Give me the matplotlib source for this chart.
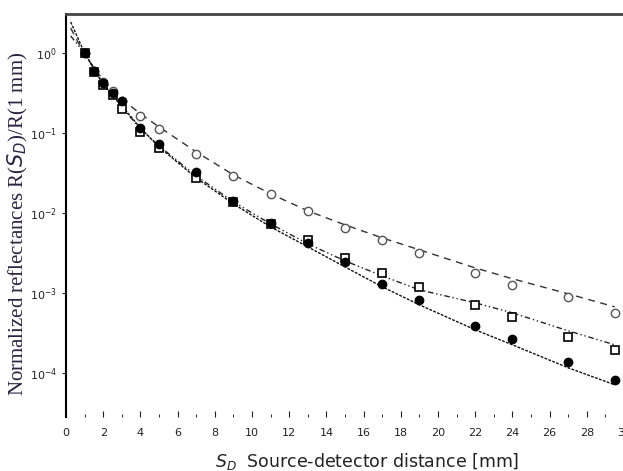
import numpy as np
import matplotlib.pyplot as plt
from matplotlib.ticker import MultipleLocator, LogLocator, NullLocator

# measured points
x_pts = [1, 1.5, 2, 2.5, 3, 4, 5, 7, 9, 11, 13, 15, 17, 19, 22, 24, 27, 29.5]
r_filled = [1.0, 0.596, 0.42, 0.316, 0.25, 0.1155, 0.0729, 0.0326, 0.0141, 0.0075,
            0.00422, 0.00244, 0.0013, 0.000818, 0.000387, 0.000266, 0.000137, 8.2e-5]
r_square = [1.0, 0.58, 0.40, 0.30, 0.2, 0.103, 0.065, 0.0274, 0.0137, 0.0073,
            0.0046, 0.00274, 0.00178, 0.00119, 0.000708, 0.0005, 0.000282, 0.000194]
r_circle = [1.0, 0.6, 0.43, 0.33, 0.25, 0.163, 0.112, 0.0546, 0.029, 0.0173,
            0.0106, 0.0065, 0.0046, 0.00316, 0.00178, 0.00126, 0.00089, 0.000562]

# fitted curves
x_fit = [0.25, 1, 2, 3, 4, 5, 7, 9, 11, 13, 15, 17, 19, 22, 24, 27, 29.5]
fit_filled = [2.44, 1.0, 0.41, 0.2175, 0.1155, 0.0668, 0.0274, 0.01296, 0.00668, 0.00376,
              0.00211, 0.00119, 0.000708, 0.000345, 0.000224, 0.0001155, 7.08e-5]
fit_square = [1.63, 1.0, 0.398, 0.211, 0.112, 0.0688, 0.029, 0.01373, 0.00729, 0.0041,
              0.00251, 0.00163, 0.00109, 0.00075, 0.000562, 0.000335, 0.000224]
fit_circle = [2.05, 0.944, 0.46, 0.266, 0.173, 0.119, 0.0579, 0.0299, 0.0173, 0.0106,
              0.00708, 0.00487, 0.00345, 0.00205, 0.0015, 0.000972, 0.000668]

fig = plt.figure(figsize=(6.23, 4.71), dpi=100)
ax = fig.add_axes([66/623, 1-417/471, 558/623, 403/471])

ax.plot(x_fit, fit_circle, color='#333333', lw=1, dashes=(5, 4))
ax.plot(x_fit, fit_square, color='#222222', lw=1, dashes=(4, 2, 1, 2, 1, 2))
ax.plot(x_fit, fit_filled, color='#111111', lw=1, dashes=(2, 1))

ax.plot(x_pts, r_circle, 'o', ms=6, mfc='white', mec='#555555', mew=1)
ax.plot(x_pts, r_square, 's', ms=6, mfc='white', mec='black', mew=1.2)
ax.plot(x_pts, r_filled, 'o', ms=6, mfc='black', mec='black')

ax.set_yscale('log')
ax.set_xlim(0, 30)
ax.set_ylim(2.8e-5, 3.07)
ax.yaxis.set_major_locator(LogLocator(base=10, numticks=10))
ax.yaxis.set_minor_locator(NullLocator())
ax.xaxis.set_major_locator(MultipleLocator(2))
ax.xaxis.set_minor_locator(MultipleLocator(1))

ax.spines['right'].set_visible(False)
ax.spines['bottom'].set_visible(False)
ax.spines['top'].set_color('#444444')
ax.spines['top'].set_linewidth(2)
ax.spines['left'].set_linewidth(1.5)

ax.tick_params(axis='x', which='major', direction='in', length=4, labelsize=8,
               colors='#222222', pad=8)
ax.tick_params(axis='x', which='minor', direction='in', length=2)
ax.tick_params(axis='y', which='major', direction='out', length=3, labelsize=8,
               colors='#222222')

ax.set_ylabel(r'Normalized reflectances R($S_D$)/R(1 mm)', family='Liberation Serif',
              fontsize=15, color='#2b2440')
ax.yaxis.set_label_coords(-0.064, 0.48)
fig.text(367/623, 1-461/471, r'$S_D$  Source-detector distance [mm]', ha='center',
         va='center', fontsize=12.5, color='#222222')

plt.savefig('out.png', dpi=100)
